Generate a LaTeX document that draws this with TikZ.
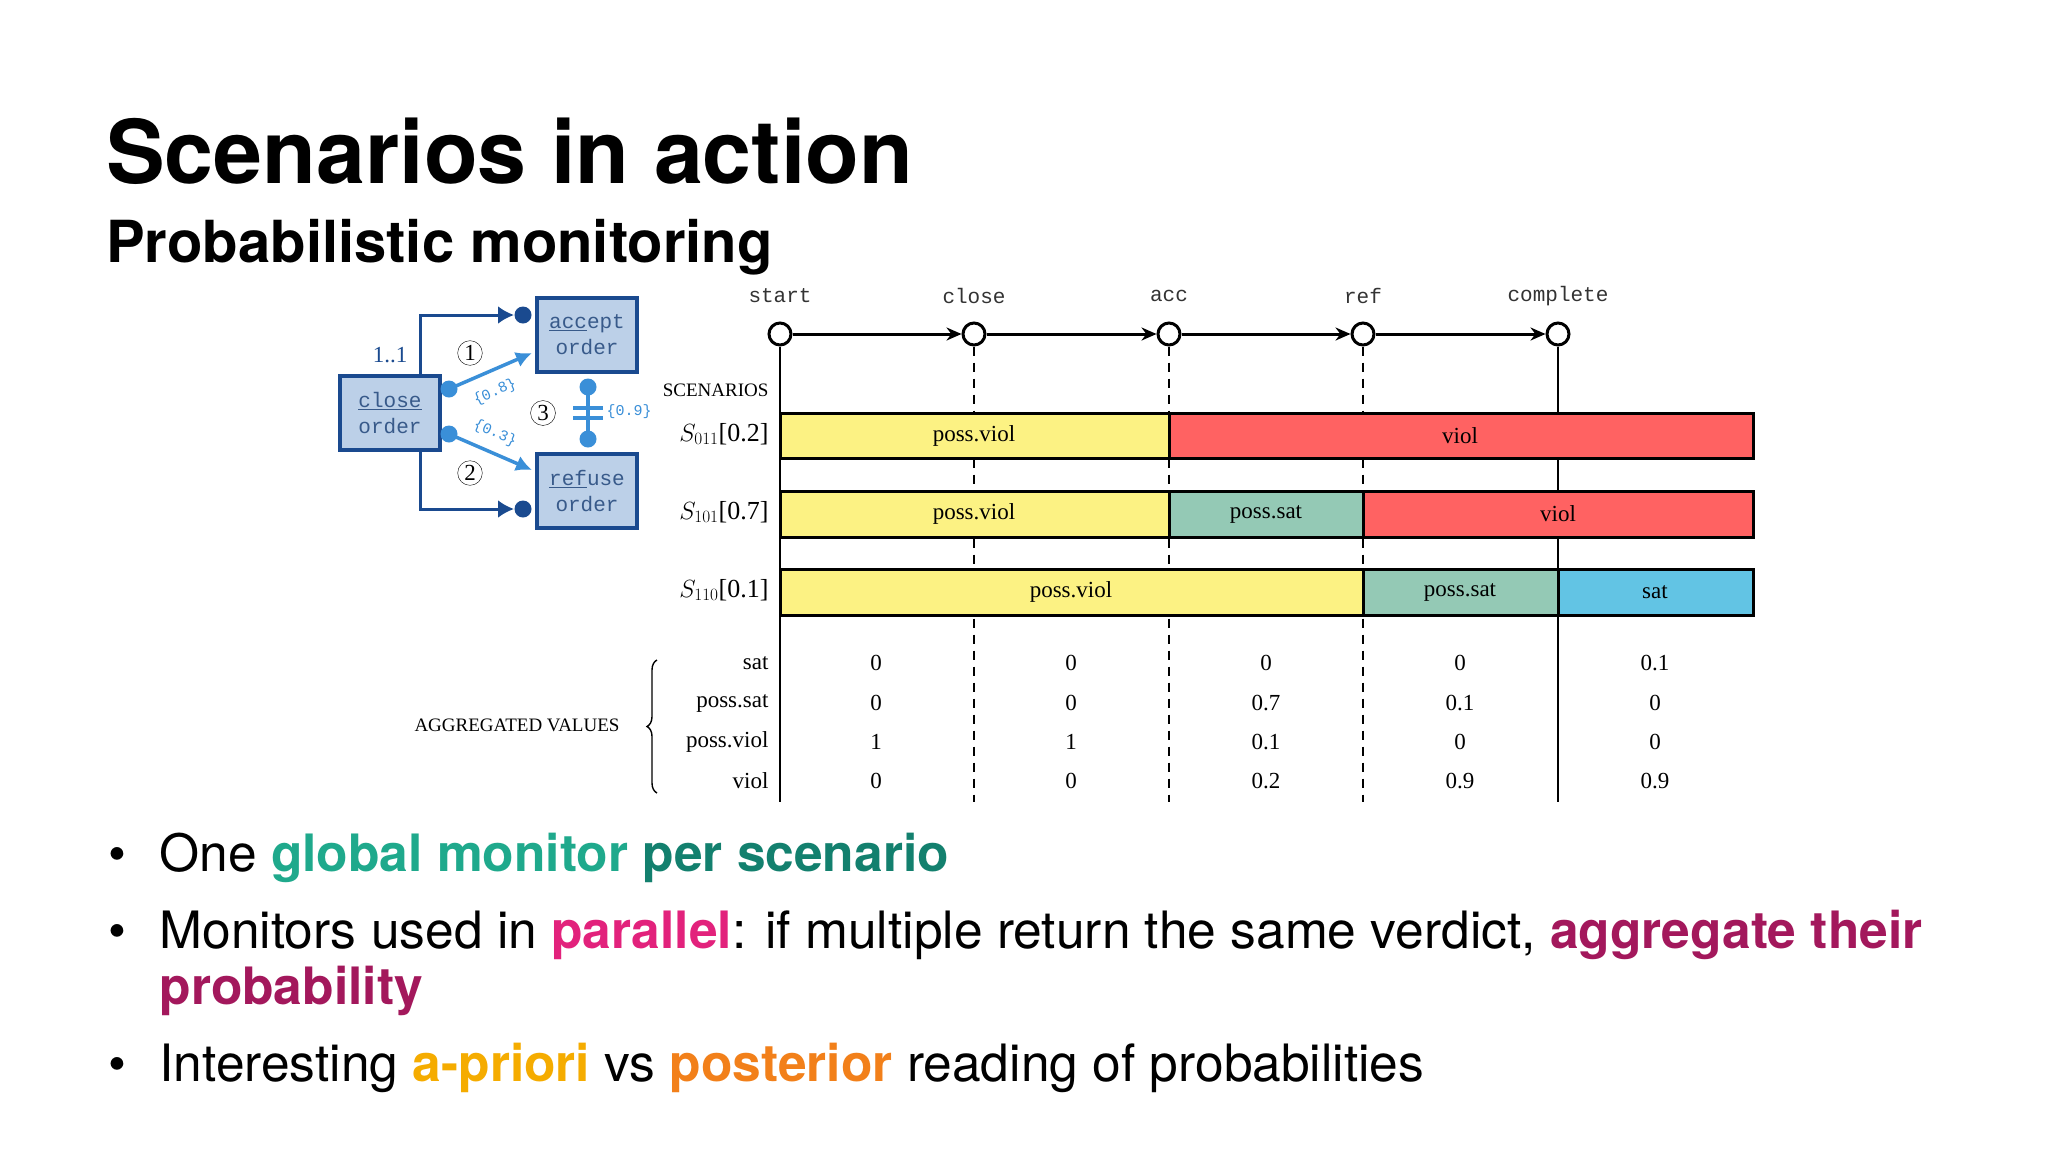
\documentclass[tikz,border=0pt]{standalone}
\usepackage{fontspec}
\setmainfont{TeX Gyre Heros}
\newfontfamily\serif{Liberation Serif}
\newfontfamily\mono{Liberation Mono}
\usetikzlibrary{arrows.meta,decorations.pathreplacing}
\definecolor{dblue}{HTML}{1A4A8F}
\definecolor{lblue}{HTML}{3A8FD8}
\definecolor{boxfill}{HTML}{BCD0E8}
\definecolor{cyel}{HTML}{FCF283}
\definecolor{cred}{HTML}{FF6262}
\definecolor{cteal}{HTML}{94C9B5}
\definecolor{cblue}{HTML}{62C4E4}
\definecolor{tgreen}{HTML}{1FA98C}
\definecolor{tdark}{HTML}{13806E}
\definecolor{cmag}{HTML}{E2227C}
\definecolor{cpur}{HTML}{A3185C}
\definecolor{camb}{HTML}{F5AC00}
\definecolor{cora}{HTML}{F2801A}
\begin{document}
\begin{tikzpicture}[x=1pt,y=-1pt,
  act/.style={draw=dblue,line width=4pt,fill=boxfill,minimum width=100pt,minimum height=74pt,align=center,font=\mono\fontsize{21}{26}\selectfont,text=dblue!70!gray},
  num/.style={circle,draw,thin,inner sep=2pt,font=\serif\fontsize{23}{23}\selectfont},
  tl/.style={circle,draw,line width=3pt,fill=white,minimum size=22pt,inner sep=0pt},
  tlab/.style={font=\mono\fontsize{21}{21}\selectfont,text=black!80},
  bar/.style={draw,line width=3pt},
  st/.style={font=\serif\fontsize{23}{23}\selectfont},
  tstep/.style={-{Stealth[length=15pt,width=13pt]},line width=3pt},
  bul/.style={anchor=base west,font=\fontsize{51.5}{60}\selectfont,align=left}]
\useasboundingbox (0,0) rectangle (2048,1152);
\fill[white] (0,0) rectangle (2048,1152);
% titles
\node[anchor=base west,inner sep=0,font=\bfseries\fontsize{88}{88}\selectfont] (title) at (106,183) {Scenarios in action};
\node[anchor=base west,inner sep=0,font=\bfseries\fontsize{58}{58}\selectfont] (sub) at (106,262) {Probabilistic monitoring};
% left diagram
\node[act] (close) at (390,413) {\underline{close}\\order};
\node[act] (accept) at (587,335) {\underline{acc}ept\\order};
\node[act] (refuse) at (587,491) {\underline{ref}use\\order};
\coordinate (ct) at (420,375); \coordinate (cb) at (420,452);
\coordinate (at) at (534,315); \coordinate (rb) at (534,509);
\draw[dblue,line width=3pt,-{Latex[length=16pt,width=18pt]}] (ct) |- ([xshift=-20pt]at);
\draw[dblue,line width=3pt,-{Latex[length=16pt,width=18pt]}] (cb) |- ([xshift=-20pt]rb);
\fill[dblue] ([xshift=-11pt]at) circle (8.5pt);
\fill[dblue] ([xshift=-11pt]rb) circle (8.5pt);
\node[text=dblue,font=\serif\fontsize{23}{23}\selectfont] (one) at (390,355) {1..1};
\coordinate (d1) at (449,389); \coordinate (a1) at (532,353);
\coordinate (d2) at (449,434); \coordinate (a2) at (532,470);
\draw[lblue,line width=3.5pt,-{Latex[length=16pt,width=16pt]}] (d1) -- (a1);
\draw[lblue,line width=3.5pt,-{Latex[length=16pt,width=16pt]}] (d2) -- (a2);
\fill[lblue] (d1) circle (8.5pt); \fill[lblue] (d2) circle (8.5pt);
\node[text=lblue,rotate=24,font=\mono\fontsize{15}{15}\selectfont] (p8) at (495,392) {\{0.8\}};
\node[text=lblue,rotate=-24,font=\mono\fontsize{15}{15}\selectfont] (p3) at (495,433) {\{0.3\}};
\coordinate (v1) at (588,387); \coordinate (v2) at (588,439);
\draw[lblue,line width=3.5pt] (v1) -- (v2);
\draw[lblue,line width=3.5pt] (573,408) -- (603,408) (573,418) -- (603,418);
\fill[lblue] (v1) circle (8.5pt); \fill[lblue] (v2) circle (8.5pt);
\node[text=lblue,font=\mono\fontsize{15}{15}\selectfont] (p9) at (629,412) {\{0.9\}};
\node[num] (n1) at (470,353) {1};
\node[num] (n2) at (470,473) {2};
\node[num] (n3) at (543,413) {3};
% timeline
\foreach \n/\x/\l in {t1/780/start,t2/974/close,t3/1169/acc,t4/1363/ref,t5/1558/complete}{
  \node[tl] (\n) at (\x,334) {};
  \node[tlab] (\n l) at (\x,296) {\l};
}
\draw[line width=2.5pt] (t1.south) -- (780,802);
\draw[line width=2.5pt] (t5.south) -- (1558,802);
\foreach \n/\x in {t2/974,t3/1169,t4/1363}
  \draw[line width=2.5pt,dash pattern=on 9pt off 7pt] (\n.south) -- (\x,802);
\draw[tstep] (t1) -- (t2); \draw[tstep] (t2) -- (t3); \draw[tstep] (t3) -- (t4); \draw[tstep] (t4) -- (t5);
% scenarios
\node[anchor=east,font=\serif\fontsize{19}{19}\selectfont] (scen) at (772,390) {SCENARIOS};
\node[anchor=east,st,font=\serif\fontsize{26}{26}\selectfont] (s1) at (772,434) {$S_{011}$[0.2]};
\node[anchor=east,st,font=\serif\fontsize{26}{26}\selectfont] (s2) at (772,512) {$S_{101}$[0.7]};
\node[anchor=east,st,font=\serif\fontsize{26}{26}\selectfont] (s3) at (772,590) {$S_{110}$[0.1]};
\draw[bar,fill=cyel] (780,413) rectangle (1169,458); \node[st] at (974,436) {poss.viol};
\draw[bar,fill=cred] (1169,413) rectangle (1753,458); \node[st] at (1460,436) {viol};
\draw[bar,fill=cyel] (780,491) rectangle (1169,537); \node[st] at (974,514) {poss.viol};
\draw[bar,fill=cteal] (1169,491) rectangle (1363,537); \node[st] at (1266,514) {poss.sat};
\draw[bar,fill=cred] (1363,491) rectangle (1753,537); \node[st] at (1558,514) {viol};
\draw[bar,fill=cyel] (780,569) rectangle (1363,615); \node[st] at (1071,592) {poss.viol};
\draw[bar,fill=cteal] (1363,569) rectangle (1558,615); \node[st] at (1460,592) {poss.sat};
\draw[bar,fill=cblue] (1558,569) rectangle (1753,615); \node[st] at (1655,592) {sat};
% table
\foreach \lab/\y/\a/\b/\c/\d/\e in {sat/663/0/0/0/0/0.1,poss.sat/703/0/0/0.7/0.1/0,poss.viol/742/1/1/0.1/0/0,viol/781/0/0/0.2/0.9/0.9}{
  \node[st,anchor=east] at (772,\y) {\lab};
  \node[st] at (876,\y) {\a}; \node[st] at (1071,\y) {\b}; \node[st] at (1266,\y) {\c};
  \node[st] at (1460,\y) {\d}; \node[st] at (1655,\y) {\e};
}
\draw[decorate,decoration={brace,amplitude=10pt},line width=1.4pt] (657,793) -- (657,660);
\node[font=\serif\fontsize{19}{19}\selectfont] (agg) at (517,725) {AGGREGATED VALUES};
% bullets
\foreach \y in {871,948,1081} \node[anchor=base,font=\fontsize{51}{51}\selectfont] at (117,\y) {•};
\node[bul] (b1) at (156,871) {One \textcolor{tgreen}{\bfseries global monitor} \textcolor{tdark}{\bfseries per scenario}};
\node[bul] (b2) at (156,948) {Monitors used in \textcolor{cmag}{\bfseries parallel}: if multiple return the same verdict, \textcolor{cpur}{\bfseries aggregate their}};
\node[bul] (b2b) at (156,1004) {\textcolor{cpur}{\bfseries probability}};
\node[bul] (b3) at (156,1081) {Interesting \textcolor{camb}{\bfseries a-priori} vs \textcolor{cora}{\bfseries posterior} reading of probabilities};
\end{tikzpicture}
\end{document}
